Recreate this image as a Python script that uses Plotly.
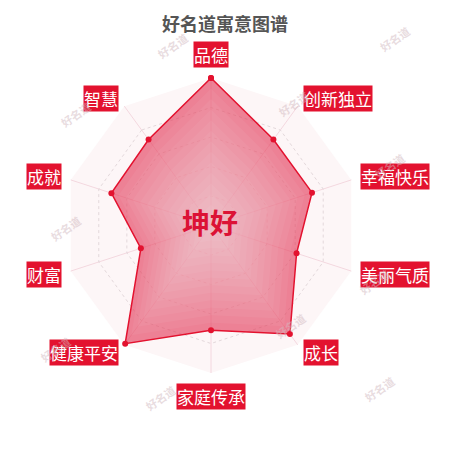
import math
import plotly.graph_objects as go

# 寓意维度 (顺时针, 从正上方开始) 与各项得分
categories = ["品德", "创新独立", "幸福快乐", "美丽气质", "成长",
              "家庭传承", "健康平安", "财富", "成就", "智慧"]
scores = [100, 72, 72, 61, 91, 71, 99, 50, 71, 72]
name_text = "坤好"
title_text = "好名道寓意图谱"
watermark = "好名道"

# the page body has an 8px margin, so the figure is a bit smaller and everything
# is placed in "window" pixels then shifted
OFF = 8
W = H = 450 - OFF
cx, cy, R = 211, 225.5, 147.5  # polar centre / radius in window pixels


def px(x):
    return (x - OFF) / W


def py(y):
    return 1 - (y - OFF) / H


red = "#e3122f"

fig = go.Figure()

# main filled area
r_closed = scores + scores[:1]
t_closed = categories + categories[:1]
fig.add_trace(go.Scatterpolar(
    r=r_closed, theta=t_closed, mode="none", fill="toself",
    fillcolor="rgba(226,52,84,0.6)", hoverinfo="skip", showlegend=False))

# lighter centre -> fake the radial gradient of the original fill
n_layers = 14
for k in range(n_layers - 1, 0, -1):
    f = k / n_layers
    fig.add_trace(go.Scatterpolar(
        r=[v * f for v in r_closed], theta=t_closed, mode="none", fill="toself",
        fillcolor="rgba(255,255,255,0.05)", hoverinfo="skip", showlegend=False))

# outline + points
fig.add_trace(go.Scatterpolar(
    r=r_closed, theta=t_closed, mode="lines+markers",
    line=dict(color=red, width=1.5),
    marker=dict(color=red, size=6),
    showlegend=False))

annotations = []
n = len(categories)
for i, cat in enumerate(categories):
    ang = 2 * math.pi * i / n
    s, c = math.sin(ang), math.cos(ang)
    lx = cx + 157 * s
    ly = cy - 157 * c
    if s > 0.1:
        xa = "left"
    elif s < -0.1:
        xa = "right"
    else:
        xa = "center"
    if c > 0.95:
        ya = "bottom"
    elif c < -0.95:
        ya = "top"
    else:
        ya = "middle"
    annotations.append(dict(
        text=cat, x=px(lx), y=py(ly), xref="paper", yref="paper",
        xanchor=xa, yanchor=ya, showarrow=False,
        font=dict(family="Noto Sans CJK SC", size=17, color="white"),
        bgcolor=red, borderpad=0))

# centre name
annotations.append(dict(
    text=name_text, x=px(210), y=py(222), xref="paper", yref="paper",
    showarrow=False, xanchor="center", yanchor="middle",
    font=dict(family="Noto Sans CJK SC", size=28, color="#dc1235", weight="bold")))

# watermarks
wm_pos = [(172, 27), (415, 20), (55, 95), (293, 85), (410, 147), (45, 228),
          (35, 368), (160, 417), (400, 408), (290, 345), (395, 282)]
for (wx, wy) in wm_pos:
    annotations.append(dict(
        text=watermark, x=px(wx), y=py(wy), xref="paper", yref="paper",
        showarrow=False, textangle=-35,
        font=dict(family="Noto Sans CJK SC", size=11, color="rgba(210,185,192,0.5)",
                  weight="bold")))

# title (as high as the page allows)
annotations.append(dict(
    text=title_text, x=px(224.5), y=1, xref="paper", yref="paper",
    showarrow=False, xanchor="center", yanchor="top",
    font=dict(family="Noto Sans CJK SC", size=18, color="#555555", weight="bold")))

fig.update_layout(
    width=W, height=H,
    margin=dict(l=0, r=0, t=0, b=0),
    paper_bgcolor="white",
    polar=dict(
        domain=dict(x=[px(cx - R), px(cx + R)], y=[py(cy + R), py(cy - R)]),
        gridshape="linear",
        bgcolor="#fdf6f7",
        radialaxis=dict(range=[0, 100], tickvals=[20, 40, 60, 80, 100], showticklabels=False,
                        ticks="", showline=False, gridcolor="#e3d8db", griddash="dot",
                        gridwidth=1),
        angularaxis=dict(direction="clockwise", rotation=90, showticklabels=False, ticks="",
                         showline=False, gridcolor="rgba(240,205,215,0.75)", gridwidth=1),
    ),
    annotations=annotations,
)

fig.write_html("out.html")
